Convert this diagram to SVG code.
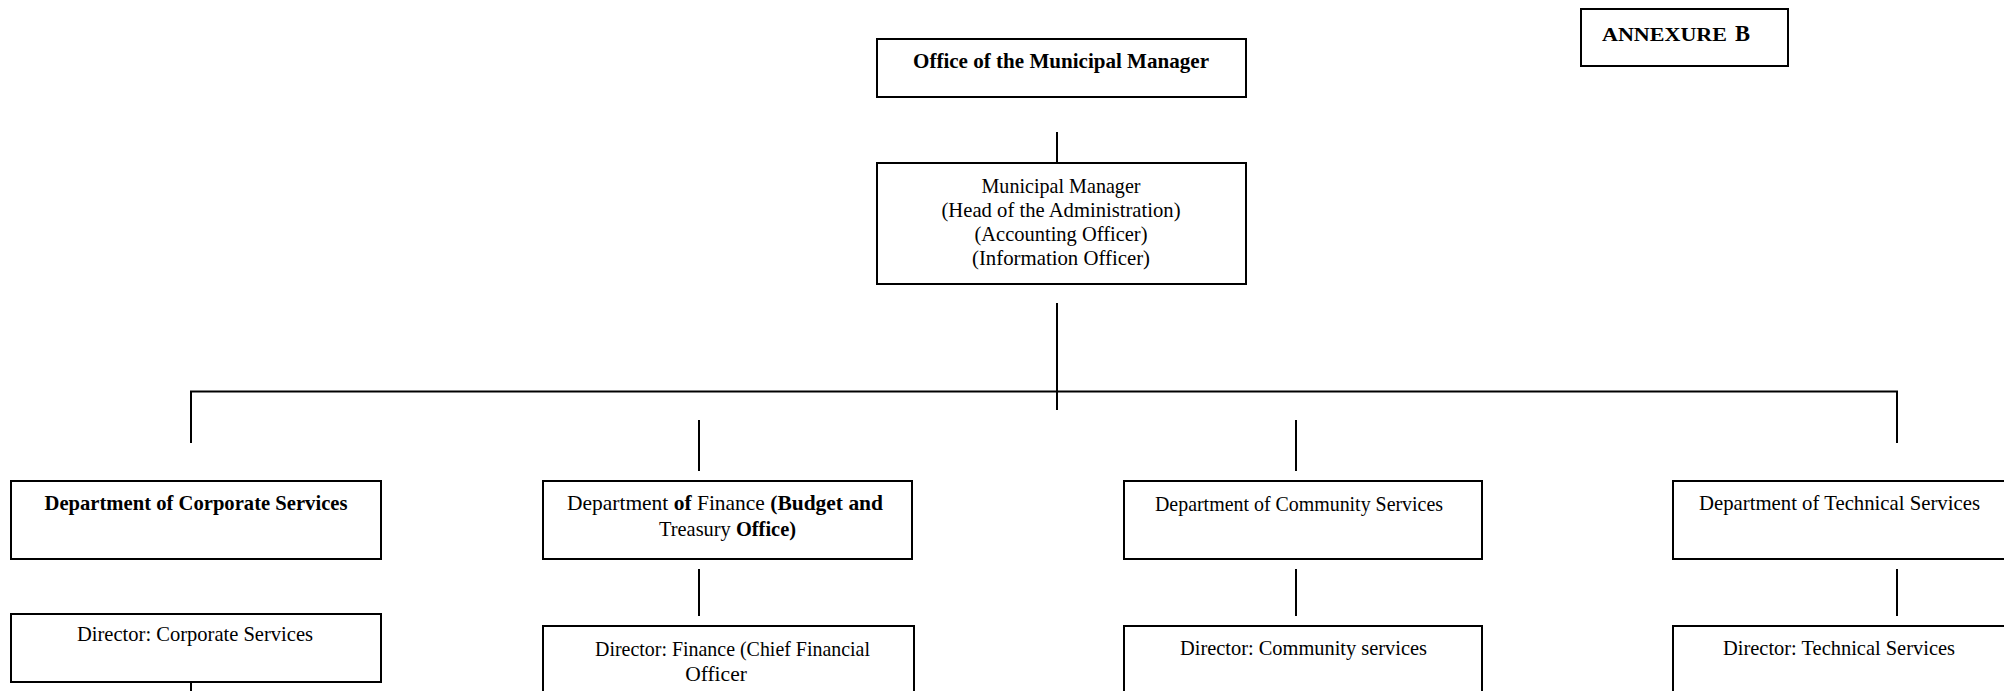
<svg xmlns="http://www.w3.org/2000/svg" width="2004" height="691" viewBox="0 0 2004 691">
<style>
.box{fill:#fff;stroke:#000;stroke-width:2}
.ln{stroke:#000;stroke-width:2;fill:none}
text{font-family:"Liberation Serif","Times New Roman",serif;font-size:21.5px;fill:#000;text-anchor:middle}
.b{font-weight:bold}
</style>
<rect width="2004" height="691" fill="#fff"/>
<g id="connectors">
<line class="ln" x1="1057" y1="132" x2="1057" y2="163"/>
<line class="ln" x1="1057" y1="303" x2="1057" y2="410"/>
<polyline class="ln" points="191,443 191,391.5 1897,391.5 1897,443"/>
<line class="ln" x1="699" y1="420" x2="699" y2="471"/>
<line class="ln" x1="1296" y1="420" x2="1296" y2="471"/>
<line class="ln" x1="699" y1="569" x2="699" y2="616"/>
<line class="ln" x1="1296" y1="569" x2="1296" y2="616"/>
<line class="ln" x1="1897" y1="569" x2="1897" y2="616"/>
<line class="ln" x1="191" y1="682" x2="191" y2="691"/>
</g>
<g id="annexure">
<rect class="box" x="1581" y="9" width="207" height="57"/>
<text x="1602" y="41" class="b" style="text-anchor:start;font-size:18.5px" textLength="125" lengthAdjust="spacingAndGlyphs">ANNEXURE</text>
<text x="1735" y="41" class="b" style="text-anchor:start;font-size:22.5px">B</text>
</g>
<g id="office">
<rect class="box" x="877" y="39" width="369" height="58"/>
<text x="1061" y="68" class="b" textLength="296" lengthAdjust="spacingAndGlyphs">Office of the Municipal Manager</text>
</g>
<g id="municipal-manager">
<rect class="box" x="877" y="163" width="369" height="121"/>
<text x="1061" y="193" textLength="159" lengthAdjust="spacingAndGlyphs">Municipal Manager</text>
<text x="1061" y="217" textLength="239" lengthAdjust="spacingAndGlyphs">(Head of the Administration)</text>
<text x="1061" y="241" textLength="173" lengthAdjust="spacingAndGlyphs">(Accounting Officer)</text>
<text x="1061" y="265" textLength="178" lengthAdjust="spacingAndGlyphs">(Information Officer)</text>
</g>
<g id="dept-corporate">
<rect class="box" x="11" y="481" width="370" height="78"/>
<text x="196" y="510" class="b" textLength="303" lengthAdjust="spacingAndGlyphs">Department of Corporate Services</text>
</g>
<g id="director-corporate">
<rect class="box" x="11" y="614" width="370" height="68"/>
<text x="195" y="641" textLength="236" lengthAdjust="spacingAndGlyphs">Director: Corporate Services</text>
</g>
<g id="dept-finance">
<rect class="box" x="543" y="481" width="369" height="78"/>
<text x="725" y="510" textLength="316" lengthAdjust="spacingAndGlyphs">Department <tspan class="b">of</tspan> Finance <tspan class="b">(Budget and</tspan></text>
<text x="727.5" y="536" textLength="137" lengthAdjust="spacingAndGlyphs">Treasury <tspan class="b">Office)</tspan></text>
</g>
<g id="director-finance">
<rect class="box" x="543" y="626" width="371" height="80"/>
<text x="732.5" y="656" textLength="275" lengthAdjust="spacingAndGlyphs">Director: Finance (Chief Financial</text>
<text x="716" y="681">Officer</text>
</g>
<g id="dept-community">
<rect class="box" x="1124" y="481" width="358" height="78"/>
<text x="1299" y="511" textLength="288" lengthAdjust="spacingAndGlyphs">Department of Community Services</text>
</g>
<g id="director-community">
<rect class="box" x="1124" y="626" width="358" height="80"/>
<text x="1303.5" y="655" textLength="247" lengthAdjust="spacingAndGlyphs">Director: Community services</text>
</g>
<g id="dept-technical">
<rect class="box" x="1673" y="481" width="340" height="78"/>
<text x="1839.5" y="510" textLength="281" lengthAdjust="spacingAndGlyphs">Department of Technical Services</text>
</g>
<g id="director-technical">
<rect class="box" x="1673" y="626" width="340" height="80"/>
<text x="1839" y="655" textLength="232" lengthAdjust="spacingAndGlyphs">Director: Technical Services</text>
</g>
</svg>
